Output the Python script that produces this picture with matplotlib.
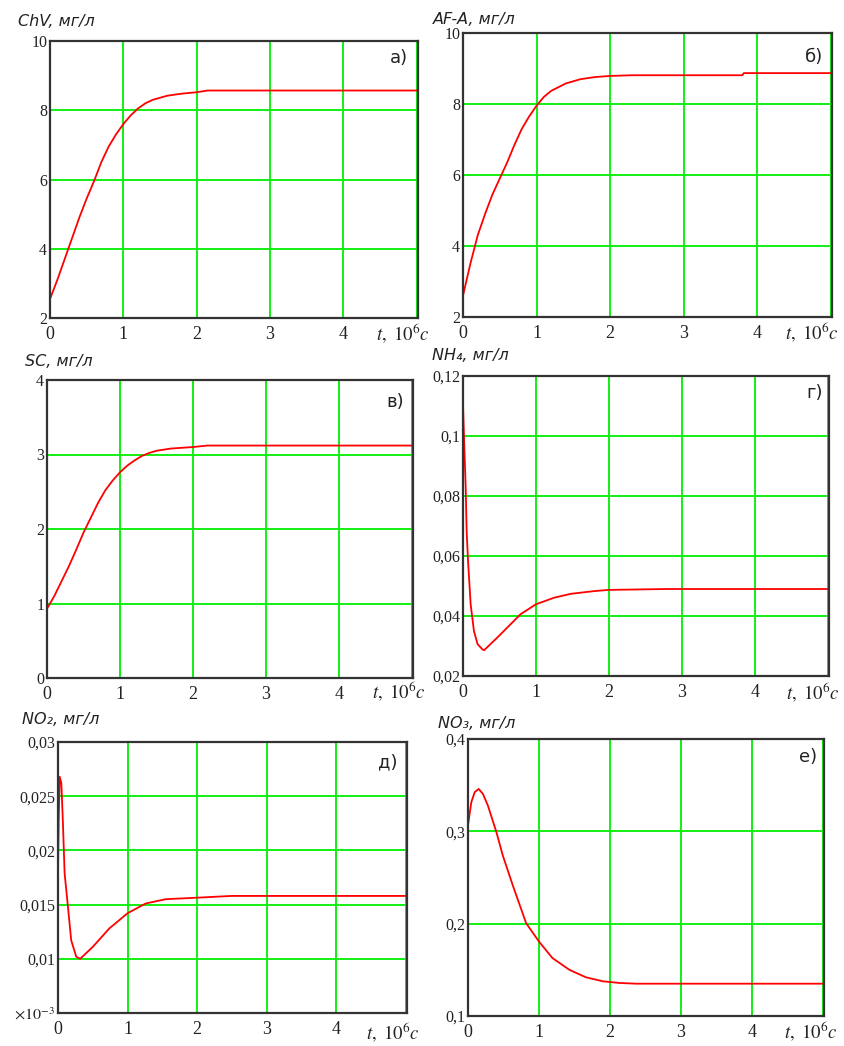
import matplotlib.pyplot as plt

plt.rcParams['mathtext.fontset'] = 'stix'

W, H = 844, 1046

t_chv = [0, 0.1, 0.2, 0.3, 0.4, 0.5, 0.6, 0.7, 0.8, 0.9, 1.0, 1.1, 1.2, 1.3, 1.4, 1.5, 1.6, 1.8, 2.0, 2.15, 5.0]
chv = [2.55, 3.1, 3.7, 4.3, 4.9, 5.45, 5.95, 6.5, 6.95, 7.3, 7.6, 7.85, 8.05, 8.2, 8.3, 8.36, 8.42, 8.48, 8.52, 8.57, 8.57]

t_afa = [0, 0.1, 0.2, 0.3, 0.4, 0.5, 0.6, 0.7, 0.8, 0.9, 1.0, 1.1, 1.2, 1.4, 1.6, 1.8, 2.0, 2.3, 3.8, 3.82, 5.0]
afa = [2.6, 3.5, 4.3, 4.9, 5.45, 5.9, 6.35, 6.85, 7.3, 7.65, 7.95, 8.2, 8.37, 8.58, 8.7, 8.76, 8.79, 8.81, 8.81, 8.87, 8.87]

t_sc = [0, 0.1, 0.2, 0.3, 0.4, 0.5, 0.6, 0.7, 0.8, 0.9, 1.0, 1.1, 1.2, 1.3, 1.4, 1.5, 1.7, 2.0, 2.2, 5.0]
sc = [0.93, 1.1, 1.3, 1.5, 1.72, 1.95, 2.15, 2.35, 2.52, 2.65, 2.76, 2.85, 2.92, 2.98, 3.02, 3.05, 3.08, 3.1, 3.12, 3.12]

t_nh4 = [0, 0.014, 0.037, 0.05, 0.069, 0.105, 0.15, 0.2, 0.27, 0.29, 0.47, 0.79, 1.0, 1.25, 1.48, 1.8, 2.0, 2.8, 5.0]
nh4 = [0.1106, 0.0994, 0.0828, 0.0683, 0.0583, 0.0439, 0.035, 0.0306, 0.0288, 0.0286, 0.0328, 0.0406, 0.0439, 0.0461, 0.0474, 0.0483, 0.0487, 0.049, 0.049]

t_no2 = [0, 0.01, 0.024, 0.048, 0.071, 0.095, 0.143, 0.19, 0.262, 0.319, 0.5, 0.738, 1.0, 1.26, 1.55, 1.88, 2.5, 5.0]
no2 = [0.0179, 0.0228, 0.0268, 0.0262, 0.0225, 0.0179, 0.0148, 0.0117, 0.0102, 0.0100, 0.0111, 0.0128, 0.0142, 0.0151, 0.0155, 0.0156, 0.0158, 0.0158]

t_no3 = [0, 0.047, 0.094, 0.15, 0.21, 0.28, 0.4, 0.49, 0.63, 0.82, 1.0, 1.19, 1.43, 1.66, 1.9, 2.13, 2.37, 5.0]
no3 = [0.3065, 0.3316, 0.3424, 0.3459, 0.3406, 0.328, 0.2993, 0.274, 0.2418, 0.2005, 0.1807, 0.1628, 0.150, 0.142, 0.1376, 0.1358, 0.135, 0.135]

x_ticks = [0, 1, 2, 3, 4, 5]
x_labels = ['0', '1', '2', '3', '4', '']

panels = [
    # данные, y-тики, подписи, заголовок, буква, рамка (px: left, top, right, bottom), позиция заголовка, позиция t
    (t_chv, chv, [2, 4, 6, 8, 10], ['2', '4', '6', '8', '10'],
     'ChV, мг/л', 'а)', (50, 41, 418, 318), (18, 22), (376, 334), (0.973, 0.94)),
    (t_afa, afa, [2, 4, 6, 8, 10], ['2', '4', '6', '8', '10'],
     'AF-A, мг/л', 'б)', (463, 33, 832, 317), (433, 20), (785, 333), (0.976, 0.915)),
    (t_sc, sc, [0, 1, 2, 3, 4], ['0', '1', '2', '3', '4'],
     'SC, мг/л', 'в)', (47, 380, 413, 678), (25, 362), (372, 692), (0.975, 0.926)),
    (t_nh4, nh4, [0.02, 0.04, 0.06, 0.08, 0.1, 0.12], ['0,02', '0,04', '0,06', '0,08', '0,1', '0,12'],
     'NH₄, мг/л', 'г)', (463, 376, 829, 676), (432, 355), (786, 693), (0.984, 0.943)),
    (t_no2, no2, [0.005, 0.01, 0.015, 0.02, 0.025, 0.03],
     [r'$\times10^{-3}$', '0,01', '0,015', '0,02', '0,025', '0,03'],
     'NO₂, мг/л', 'д)', (58, 742, 407, 1013), (22, 720), (366, 1033), (0.974, 0.926)),
    (t_no3, no3, [0.1, 0.2, 0.3, 0.4], ['0,1', '0,2', '0,3', '0,4'],
     'NO₃, мг/л', 'е)', (468, 739, 824, 1016), (438, 723), (784, 1032), (0.98, 0.935)),
]

fig = plt.figure(figsize=(W / 100, H / 100), dpi=100)

for t, y, yt, ylab, title, letter, box, tpos, xlpos, lpos in panels:
    l, top, r, b = box
    ax = fig.add_axes([l / W, 1 - b / H, (r - l) / W, (b - top) / H])
    ax.plot(t, y, color='#ff0000', linewidth=1.3, zorder=3)
    ax.set_xlim(0, 5.02)
    ax.set_ylim(yt[0], yt[-1])
    ax.set_xticks(x_ticks)
    ax.set_xticklabels(x_labels, fontfamily='Liberation Serif', fontsize=13)
    ax.set_yticks(yt)
    ax.set_yticklabels(ylab, fontfamily='Liberation Serif', fontsize=11.5)
    ax.tick_params(axis='both', length=0, colors='#222222')
    ax.tick_params(axis='x', pad=6)
    ax.tick_params(axis='y', pad=2)
    ax.grid(True, color='#00ee00', linewidth=1.3)
    ax.set_axisbelow(True)
    for s in ax.spines.values():
        s.set_color('#333333')
        s.set_linewidth(1.6)
        s.set_zorder(4)
    ax.text(lpos[0], lpos[1], letter, transform=ax.transAxes, ha='right', va='center',
            fontsize=13, fontfamily='DejaVu Sans', color='#222222')
    fig.text(tpos[0] / W, 1 - tpos[1] / H, title, ha='left', va='center',
             fontsize=11.5, fontfamily='DejaVu Sans', fontstyle='italic', color='#222222')
    fig.text(xlpos[0] / W, 1 - xlpos[1] / H, r'$t,\ 10^{6}c$', ha='left', va='center',
             fontsize=13.5, color='#222222')

fig.savefig('out.png', dpi=100)
